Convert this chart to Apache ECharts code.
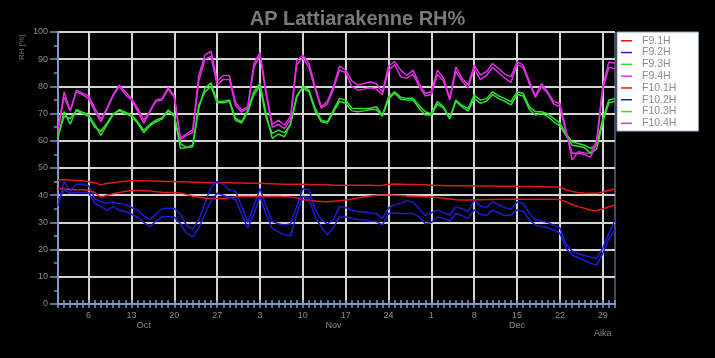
<!DOCTYPE html>
<html><head><meta charset="utf-8">
<script src="https://cdn.jsdelivr.net/npm/echarts@6/dist/echarts.min.js"></script>
<style>html,body{margin:0;padding:0;background:#000;}#c{width:715px;height:358px;}</style>
</head><body><div id="c"></div>
<script>
// Days Oct 1 .. Dec 31 (index 0..91)
const monthNames = ['Oct','Nov','Dec'];
const monthLengths = [31,30,31];
const categories = [];
const dayNumbers = [];
for (let m = 0; m < 3; m++) for (let d = 1; d <= monthLengths[m]; d++) { categories.push(monthNames[m] + ' ' + d); dayNumbers.push(d); }
const weekTickIdx = [5,12,19,26,33,40,47,54,61,68,75,82,89];
const monthLabelIdx = {14:'Oct', 45:'Nov', 75:'Dec'};

const seriesNames = ['F9.1H','F9.2H','F9.3H','F9.4H','F10.1H','F10.2H','F10.3H','F10.4H'];

const f91 = [45.6,45.8,45.6,45.5,45.3,45,44.6,43.8,44.3,44.6,44.9,45.1,45.3,45.3,45.3,45.2,45.2,45.1,45,45,44.9,44.9,44.8,44.8,44.7,44.6,44.6,44.6,44.6,44.5,44.5,44.4,44.4,44.4,44.3,44.2,44.1,44,44,44,44,43.9,43.8,43.8,43.8,43.7,43.7,43.7,43.7,43.7,43.7,43.7,43.6,43.6,44,44.1,44,43.9,43.9,43.8,43.8,43.7,43.6,43.6,43.5,43.5,43.5,43.5,43.4,43.4,43.4,43.4,43.3,43.3,43.3,43.3,43.2,43.2,43.1,43.1,43,43,42.9,42,41.4,41,40.8,40.7,40.7,41.2,41.8,42.3];
const f101 = [42.5,42.3,42.1,42,42,41.9,41,39.2,40,40.5,41,41.4,41.7,41.7,41.6,41.5,41.3,41.1,41,41,40.8,40.3,39.6,39.3,39,38.8,38.8,38.8,39,39.3,39.5,39.5,39.5,39.5,39.5,39.5,39.5,39.4,39.3,39,38.4,38.1,37.9,37.7,37.6,37.8,38,38.2,38.6,39,39.4,39.7,40,40.1,40.1,40,39.9,39.7,39.6,39.5,39.4,39.3,39.2,38.9,38.6,38.3,38.2,38.2,38.3,38.3,38.4,38.4,38.5,38.5,38.5,38.5,38.5,38.5,38.5,38.5,38.5,38.5,38.3,37.6,36.6,35.8,35.2,34.5,34.3,35,35.7,36.4];
const f92 = [36,45,41.5,44,44,43.5,38.8,37.6,37,37.5,37,36.5,35.5,34.5,32.5,31,33,35,35.2,35.2,33,29,27.5,31,37,43,45,44,41.9,41.5,36,30,36,42.5,36,30.3,29.5,29,29.5,36,42.5,42,35,31,29.5,31,35.8,35.5,34.5,34,33.9,33.5,33.3,31.5,35.2,36.5,37,38,37.5,35,32.5,33.5,34.6,33.5,32.7,35.8,35,34,38.2,36,35.5,37.6,36.5,35.5,34.8,37.6,37,33.5,30.9,30.5,30,29,28,22,19.5,18.5,17.8,17.2,16.8,20.5,26,30.9];
const f102 = [38,42,40.7,41,41,41,37,35.8,34.5,35.8,34.5,34,33,32,30,28.4,30.5,32.1,32.1,32,29.5,26,24.7,28,33,38,40.7,40,39,38.5,33,28,33,39.5,33,27.8,26.5,25.5,25,33,39.5,39,32,28.4,25.4,28,32.1,32,31.5,31,30.9,30.5,30.3,29,33.3,33.5,33.3,33.3,33.3,32,29.5,30,32,31.5,30.5,33.3,32.5,31.5,34.6,33,32.5,34.6,33.5,32.5,32.7,34.6,34,31,29,28.5,28,27.2,26,20.5,18,17,16,15,14.3,18.5,24,27.2];
const f93 = [60.9,70.7,66.1,71.5,70.5,69.5,66,62,66,69.5,71.5,70.5,69.5,67,63.9,66,67.6,68.5,71.3,69.5,57.2,57.5,57.8,72,79.3,81.3,74.4,74.5,75,68.2,67,71.3,78,81.1,70,60.9,62.5,61.5,66.4,76,80.1,78.6,72,67.6,67,71.3,75.6,75,72,71.9,71.9,72,72.5,69.5,76.2,78,76,75.6,75.6,73,70.7,70,74.4,72.5,68.2,75,73,71.9,76.8,75,75.5,78,76.5,75.5,74.4,78,77.5,72.5,70.7,70.7,70,68.2,66.5,62.7,59.6,59,58.4,57.2,58.5,68,75,75.5];
const f103 = [62,69,68.2,71,70,69,65,63.5,66.5,70,71,70,69,66.5,63,65.5,67,68,71,69,59,57.5,58.5,73,78,80,74,74,74.5,67.5,66.5,70.5,77,80,68.5,62.7,63.9,63,66,76.5,79.5,78,71,67,66.5,70.5,74.5,73.8,71,70.7,71,71.5,71.5,69,75.5,77.5,75.3,75,75,72,69.5,69.5,73.5,72,68,74.5,72.5,71,75.5,73.8,74.5,77,75.5,74.5,73.2,77,76.5,71.5,69.5,70,69,67,65.5,62,58.4,58,57.5,55.4,57,67,74,74.5];
const f94 = [63,78,71,78.6,77.5,76.5,72,68,72,77,80.5,78,75.6,72,67.6,71,75,75.5,79.6,76.5,61,62.5,64,84,91.5,93,82,84,84,74,71.3,72.5,88.4,92.5,78,66,67.6,65.8,69,89.5,91.5,88.4,80,72.5,74.4,80,87.5,86,82,80.5,81,81.7,81,78,87.5,89.1,86,84,86,81,77.4,78,86,83,75.6,87.2,83,80.5,87.8,84.2,85.4,88.4,86.5,84.5,83.5,89.1,87.8,82,76.5,81,78,74.4,73.7,63.9,53,56,55.5,55.4,60,80,89,88.5];
const f104 = [65,76,71,78,77,75.5,71,67,71.5,76.5,80,77,75,71,66.5,70.5,74.5,75,79,76,60.5,62,63,82,90,91,80.5,82.5,82.5,73,70.5,72,87,91.5,77,65,66,64.5,68,88,90.5,87,79,72,73.5,79,86,85,80,78.6,79,79.5,79,77,86,88,83.5,83,84.5,80,76.5,77,84.5,82,75,85.5,82,79.5,86.5,82.5,84,87,85,83,81.5,88,87,81,76,80,77.5,73.5,72.5,63,55.4,55.5,55,54,59,79,87,86.5];

const seriesData = [f91, f92, f93, f94, f101, f102, f103, f104];
const seriesColors = ['#e01818','#1c1cd8','#2ee02e','#e02ee0','#e01818','#1c1cd8','#2ee02e','#e02ee0'];

const yTicks = [0,10,20,30,40,50,60,70,80,90,100];

const chart = echarts.init(document.getElementById('c'), null, {renderer:'canvas'});
const axisBlue = '#7f99c8';
const labelGray = '#8a8a8a';
const font = 'Arial, "Liberation Sans", sans-serif';

const option = {
  backgroundColor: '#000',
  animation: false,
  title: {
    text: 'AP Lattiarakenne RH%',
    left: 'center', top: 4,
    textStyle: { color: '#7a7a7a', fontSize: 20, fontWeight: 'bold', fontFamily: font }
  },
  legend: {
    orient: 'vertical', left: 617, top: 32,
    backgroundColor: '#ffffff', borderColor: '#8aa0c8', borderWidth: 1,
    padding: [3, 22, 2, 4],
    icon: 'rect',
    itemWidth: 11, itemHeight: 1.5, itemGap: 0.3,
    textStyle: { color: '#8a8a8a', fontSize: 10.5, fontFamily: font, lineHeight: 11.5, padding: [0,0,0,5] },
    data: seriesNames
  },
  grid: { left: 58, right: 100, top: 32, bottom: 54, show: true, backgroundColor: '#000', borderColor: axisBlue, borderWidth: 1 },
  xAxis: [
    {
      type: 'category', data: categories, boundaryGap: false, position: 'bottom',
      axisLine: { lineStyle: { color: axisBlue, width: 2 } },
      axisTick: { show: true, interval: 0, length: 4, lineStyle: { color: axisBlue, width: 1.5 } },
      axisLabel: { interval: (i) => weekTickIdx.indexOf(i) >= 0, formatter: (v, i) => String(dayNumbers[i]), color: labelGray, fontSize: 9, margin: 7, fontFamily: font },
      splitLine: { show: true, interval: (i) => weekTickIdx.indexOf(i) >= 0, lineStyle: { color: '#d4d4d4', width: 2 } }
    },
    {
      type: 'category', data: categories, boundaryGap: false, position: 'bottom',
      axisLine: { show: false },
      axisTick: { show: true, inside: true, interval: 0, length: 4, lineStyle: { color: axisBlue, width: 1.5 } },
      axisLabel: { show: false }, splitLine: { show: false }
    },
    {
      type: 'category', data: categories, boundaryGap: false, position: 'bottom', offset: 10,
      axisLine: { show: false }, axisTick: { show: false },
      axisLabel: { interval: (i) => monthLabelIdx[i] !== undefined, formatter: (v, i) => monthLabelIdx[i] || '', color: labelGray, fontSize: 9, margin: 7, fontFamily: font },
      splitLine: { show: false }
    }
  ],
  yAxis: [
    {
      type: 'value', min: 0, max: 100, interval: 10,
      axisLine: { show: true, lineStyle: { color: axisBlue, width: 2 } },
      axisTick: { show: true, length: 8, lineStyle: { color: axisBlue, width: 1.5 } },
      minorTick: { show: true, splitNumber: 2, length: 4, lineStyle: { color: axisBlue, width: 1.5 } },
      axisLabel: { color: labelGray, fontSize: 9, margin: 10, fontFamily: font, formatter: (v) => yTicks.indexOf(v) >= 0 ? String(v) : '' },
      splitLine: { show: true, lineStyle: { color: '#d4d4d4', width: 2 } }
    }
  ],
  graphic: [
    { type: 'text', left: 594, top: 329, style: { text: 'Aika', fill: labelGray, font: '9px Arial, "Liberation Sans", sans-serif' } },
    { type: 'text', x: 18, y: 60, rotation: Math.PI / 2, style: { text: 'RH [%]', fill: '#6e6e6e', font: '8px Arial, "Liberation Sans", sans-serif' } }
  ],
  series: seriesNames.map((name, k) => ({
    name: name, type: 'line', xAxisIndex: 0, yAxisIndex: 0,
    data: seriesData[k], symbol: 'none', smooth: false,
    lineStyle: { color: seriesColors[k], width: 1.5 },
    itemStyle: { color: seriesColors[k] }
  }))
};
chart.setOption(option);
</script>
</body></html>
